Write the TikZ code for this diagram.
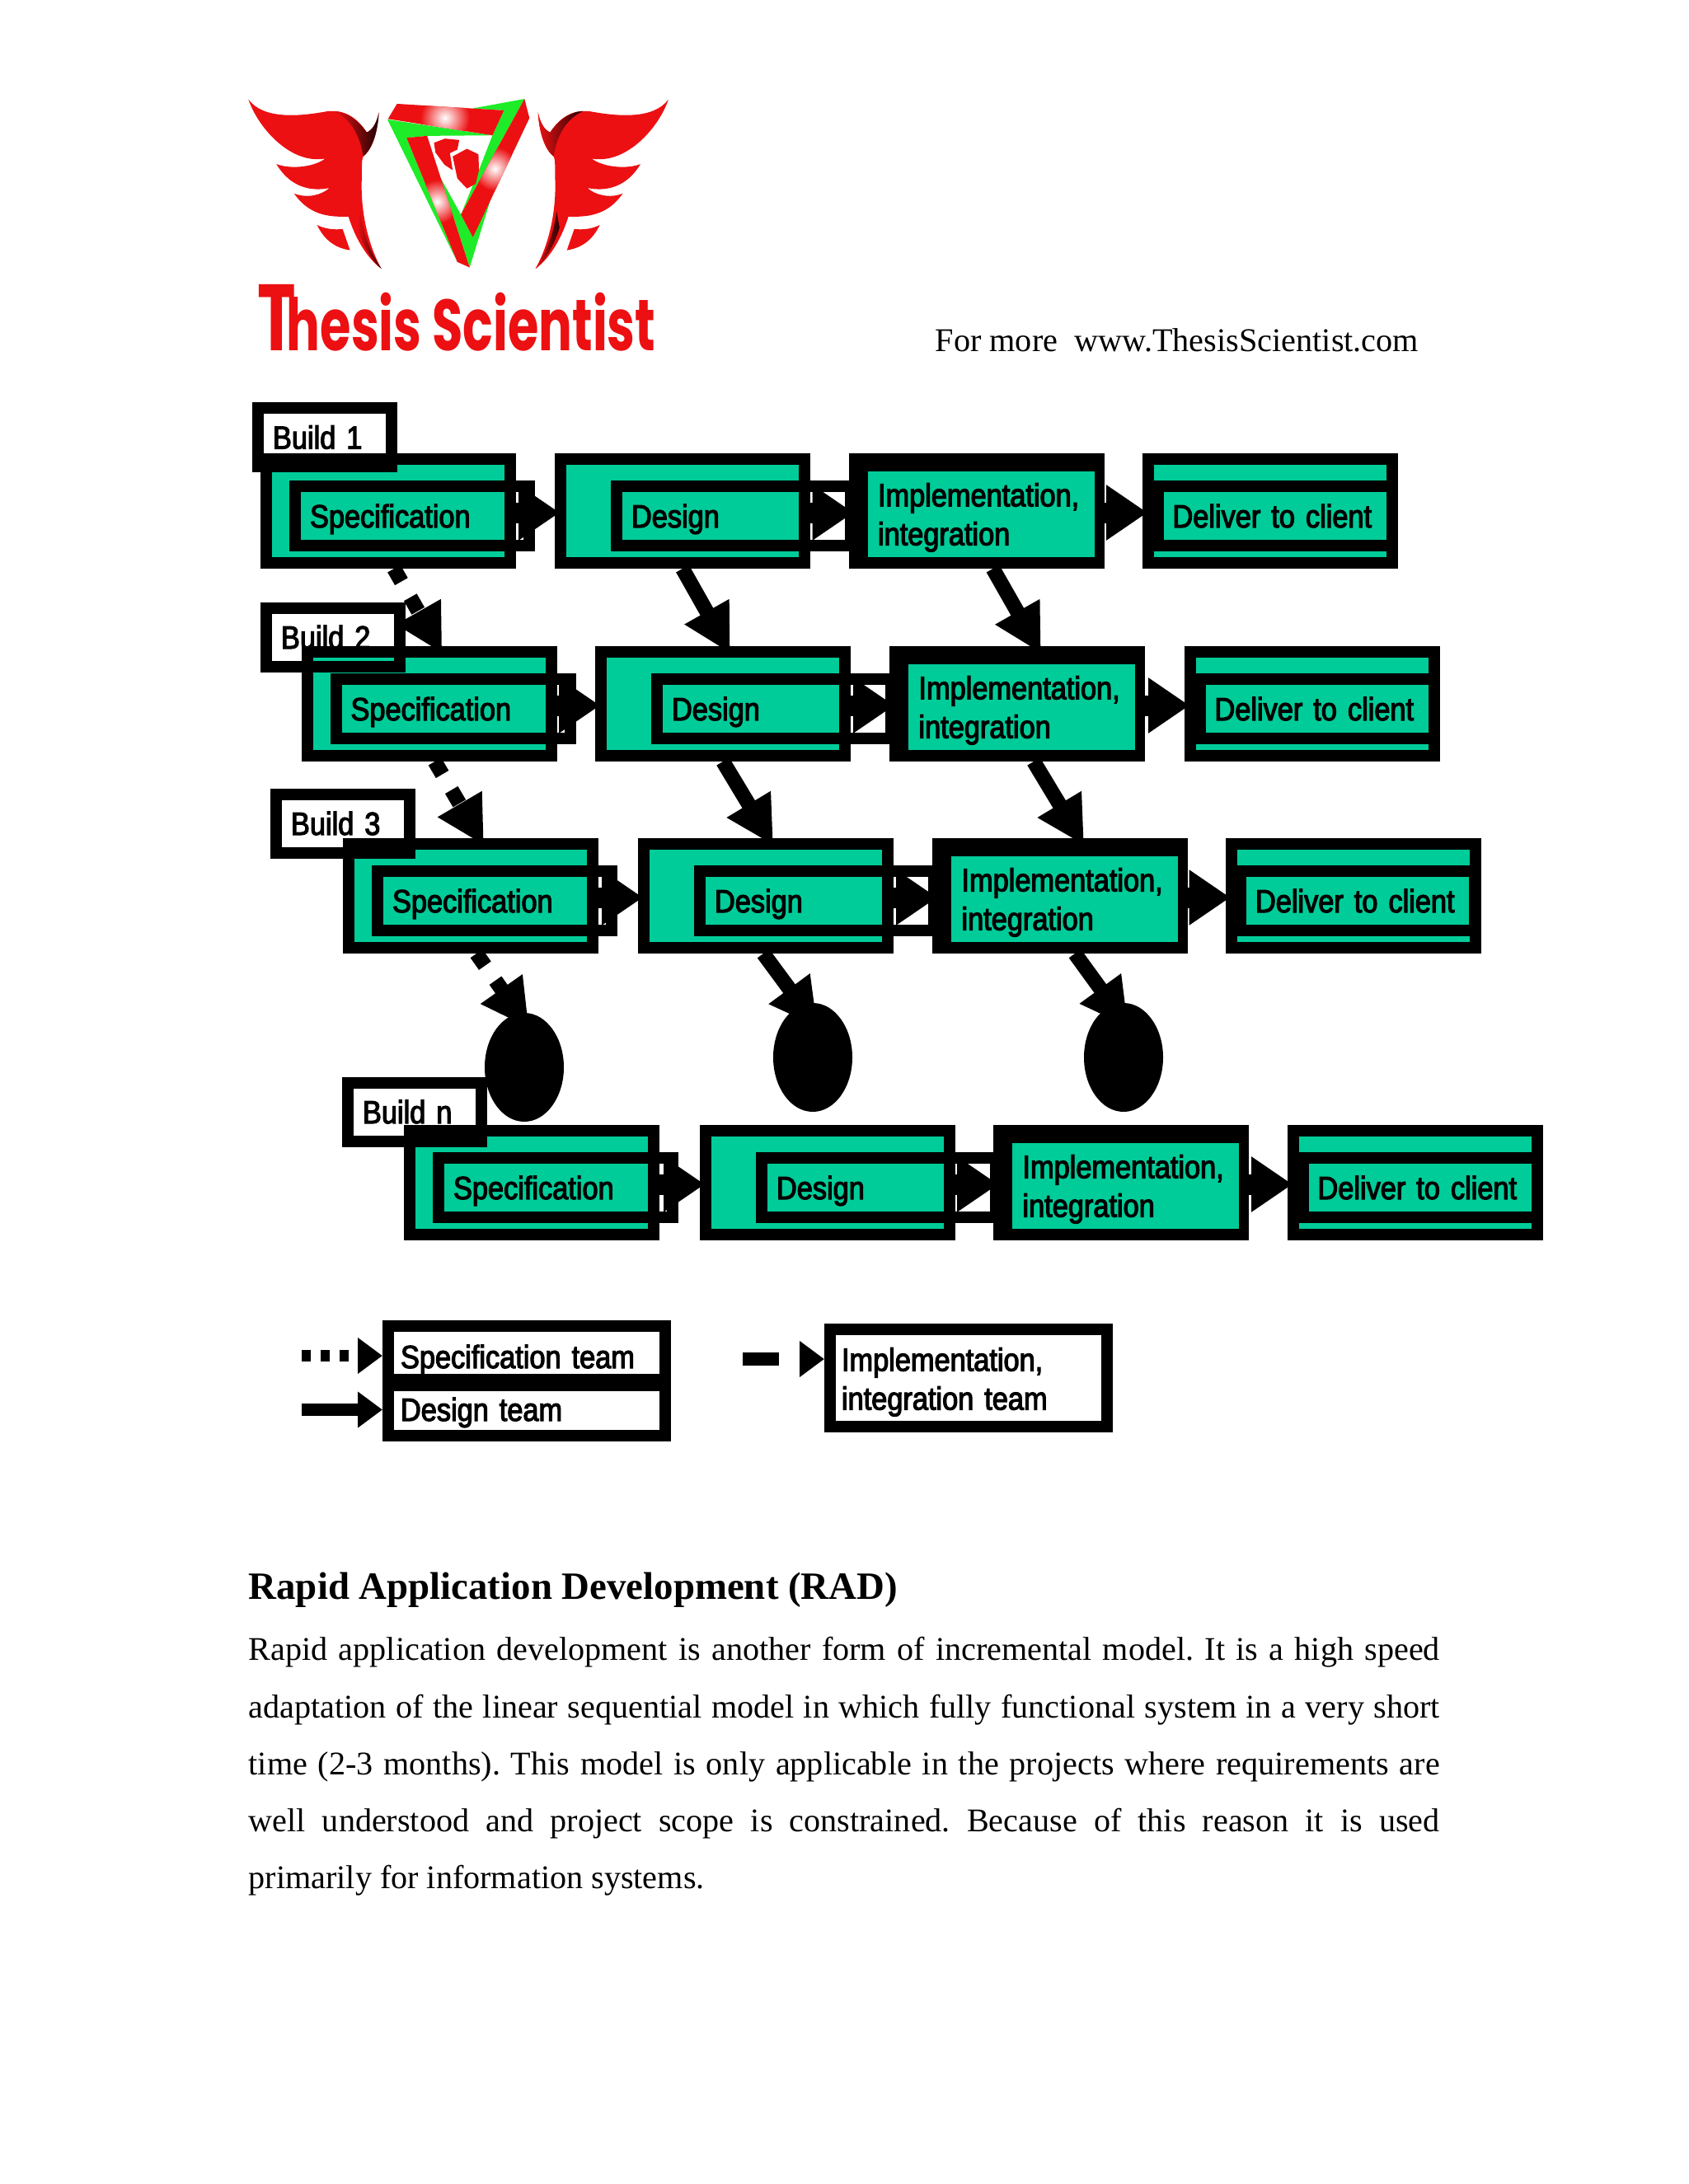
\documentclass[tikz,border=0pt]{standalone}
\usepackage{fontspec}
\usepackage{graphicx}
\usepackage{xcolor}
\usepackage{tikz}
\usetikzlibrary{arrows.meta,shapes.geometric}
\setmainfont{Liberation Serif}
\newfontfamily\boxfam[FakeStretch=.88,FakeBold=3]{Liberation Sans}
\newfontfamily\logofam[FakeStretch=.69]{Poppins}
\newcommand{\boxfont}{\boxfam\fontsize{11.1pt}{13.4pt}\selectfont}
\definecolor{boxgreen}{RGB}{0,204,153}
\definecolor{logored}{RGB}{236,16,18}
\definecolor{logogreen}{RGB}{30,236,40}
\definecolor{logodark}{RGB}{30,2,4}

\newcommand{\logowing}{%
\fill[logored] (60,62) .. controls (90,160) and (200,300) .. (320,278)
  .. controls (290,305) and (210,320) .. (155,298)
  .. controls (200,380) and (270,400) .. (335,385)
  .. controls (310,410) and (260,425) .. (215,405)
  .. controls (270,490) and (340,490) .. (400,490)
  .. controls (420,560) and (460,640) .. (512,680)
  .. controls (470,600) and (440,480) .. (445,350)
  .. controls (445,300) and (445,280) .. (450,270)
  .. controls (485,240) and (500,170) .. (503,110)
  .. controls (495,150) and (480,175) .. (462,182)
  .. controls (430,130) and (390,100) .. (330,105)
  .. controls (230,125) and (110,135) .. (60,62) -- cycle;
\fill[logored] (293,520) .. controls (320,535) and (350,538) .. (380,535)
  -- (405,612) .. controls (360,605) and (320,580) .. (293,520) -- cycle;
\shade[left color=logored,right color=logodark] (350,105) .. controls (400,105) and (440,150) .. (462,182)
  .. controls (480,175) and (495,150) .. (503,110)
  .. controls (500,170) and (485,240) .. (450,270)
  .. controls (445,230) and (425,140) .. (350,105) -- cycle;
\shade[left color=logored,right color=logodark] (440,470) .. controls (450,560) and (480,630) .. (512,680)
  .. controls (480,650) and (450,600) .. (430,530) -- cycle;
}

\tikzset{
  outerbox/.style={draw=black,line width=.14cm,minimum width=2.96cm,minimum height=1.26cm,inner sep=0pt},
  framebox/.style={draw=black,line width=.14cm,minimum width=2.84cm,minimum height=.72cm,
    text width=2.48cm,inner xsep=.18cm,inner ysep=0pt,align=left,anchor=west,
    text height=.28cm,text depth=0pt,font=\boxfont},
  implbox/.style={fill=black,minimum width=3.1cm,minimum height=1.4cm,inner sep=0pt,outer sep=0pt},
  impltext/.style={fill=boxgreen,minimum height=1.04cm,text width=2.5cm,inner xsep=.125cm,
    inner ysep=0pt,outer sep=0pt,align=left,anchor=west,text height=.36cm,font=\boxfont},
  buildbox/.style={draw=black,fill=white,line width=.14cm,minimum width=1.62cm,minimum height=.71cm,
    text width=1.26cm,inner xsep=.18cm,inner ysep=0pt,align=left,
    text height=.28cm,text depth=0pt,font=\boxfont},
  teambox/.style={draw=black,fill=white,line width=.14cm,minimum width=3.36cm,
    text width=3.06cm,inner xsep=.15cm,inner ysep=0pt,align=left,font=\boxfont},
  blob/.style={ellipse,fill=black,minimum width=.96cm,minimum height=1.32cm,inner sep=0pt},
  flowarrow/.style={line width=.25cm,shorten >=-.06cm,-{Triangle[length=.5cm,width=.64cm]}},
  teamarrow/.style={line width=.18cm,shorten >=-.1cm,-{Triangle[length=.58cm,width=.58cm]}},
  specdash/.style={teamarrow,dash pattern=on .18cm off .22cm on .19cm off .1cm},
  keyarrow/.style={-{Triangle[length=.3cm,width=.42cm]}},
}

\begin{document}
\begin{tikzpicture}[x=1cm,y=-1cm]
\useasboundingbox (0,0) rectangle (20.48,26.5);

% logo
\begin{scope}[x=.003571cm,y=-.003333cm,shift={(2.8cm,-1cm)}]
\logowing
\begin{scope}[shift={(1547,0)},xscale=-1]
\logowing
\end{scope}
\end{scope}
\begin{scope}[x=.003333cm,y=-.003333cm,shift={(4.6cm,-1.1cm)}]
\fill[logogreen] (340,65) -- (530,30) -- (298,452) -- (360,300) -- (413,163) -- (455,72) -- cycle;
\fill[logogreen] (30,105) -- (413,163) -- (175,165) -- (100,172) -- (285,625) -- cycle;
\fill[logogreen] (225,320) -- (298,452) -- (342,535) -- (410,385) -- (330,645) -- cycle;
\begin{scope}
\clip (65,48) -- (455,72) -- (413,163) -- (32,103) -- cycle;
\fill[logored] (0,0) rectangle (500,200);
\shade[inner color=white,outer color=logored] (240,100) circle (90);
\end{scope}
\begin{scope}
\clip (100,172) -- (175,165) -- (330,645) -- (285,625) -- cycle;
\fill[logored] (50,150) rectangle (350,660);
\shade[inner color=white,outer color=logored] (212,405) circle (80);
\end{scope}
\begin{scope}
\clip (530,30) -- (548,100) -- (342,535) -- (298,452) -- cycle;
\fill[logored] (280,20) rectangle (560,550);
\shade[inner color=white,outer color=logored] (422,285) circle (80);
\end{scope}
\fill[logored] (200,190) -- (240,175) -- (292,180) -- (285,215) -- (258,228) -- (268,290) -- (238,270) -- (205,225) -- cycle;
\fill[logored] (268,240) -- (320,212) -- (362,232) -- (364,290) -- (352,340) -- (320,357) -- (285,320) -- cycle;
\end{scope}
\node[anchor=base west,inner sep=0pt,text=logored,font=\logofam\bfseries\fontsize{25pt}{25pt}\selectfont] (logotitle) at (3.12,4.25)
  {\scalebox{1.3}[1.3]{T}\kern-.13em hesis Scientist};

\node[anchor=base west,inner sep=0pt,font=\frenchspacing\fontsize{11.45pt}{14pt}\selectfont] (more) at (11.34,4.26) {For more\ \ www.ThesisScientist.com};

% builds
\foreach \r/\bx/\by/\bt/\xs/\xd/\xi/\xc/\yy in {
  1/3.94/5.305/Build 1/4.71/8.28/11.845/15.41/6.20,
  2/4.04/7.73/Build 2/5.205/8.77/12.34/15.92/8.54,
  3/4.16/9.99/Build 3/5.71/9.29/12.86/16.415/10.87,
  n/5.03/13.49/Build n/6.45/10.04/13.60/17.17/14.35} {
  \node[buildbox] (build\r) at (\bx,\by) {\bt};
  \node[outerbox,draw=none,fill=boxgreen] (specbg\r) at (\xs,\yy) {};
  \node[buildbox,fill=none] (buildline\r) at (build\r) {};
  \node[outerbox] (spec\r) at (specbg\r) {};
  \node[framebox] (spectext\r) at ([xshift=.35cm,yshift=-.06cm]spec\r.west) {Specification};
  \node[outerbox,fill=boxgreen] (des\r) at (\xd,\yy) {};
  \node[framebox] (destext\r) at ([xshift=.68cm,yshift=-.06cm]des\r.west) {Design};
  \node[implbox] (impl\r) at (\xi,\yy) {};
  \node[impltext] (impltext\r) at ([xshift=.23cm,yshift=-.04cm]impl\r.west) {Implementation,\\integration};
  \node[outerbox,fill=boxgreen] (del\r) at (\xc,\yy) {};
  \node[framebox] (deltext\r) at ([xshift=.115cm,yshift=-.06cm]del\r.west) {Deliver to client};
  \draw[flowarrow] ([yshift=-.02cm]spec\r.east) -- ([yshift=-.02cm]des\r.west);
  \draw[flowarrow] ([yshift=-.02cm]des\r.east) -- ([yshift=-.02cm]impl\r.west);
  \draw[flowarrow] ([yshift=-.02cm]impl\r.east) -- ([yshift=-.02cm]del\r.west);
}

% teams between builds
\foreach \a/\b in {1/2,2/3} {
  \draw[specdash] ([xshift=.07cm]spec\a.south) -- ([xshift=.11cm]spec\b.north);
  \draw[teamarrow] (des\a.south) -- ([xshift=.04cm]des\b.north);
  \draw[teamarrow] ([xshift=.2cm]impl\a.south) -- ([xshift=.24cm]impl\b.north);
}

% more builds
\node[blob] (more1) at (6.36,12.95) {};
\node[blob] (more2) at (9.86,12.83) {};
\node[blob] (more3) at (13.63,12.83) {};
\draw[specdash] ([xshift=.07cm]spec3.south) -- ([yshift=-.11cm]more1.north);
\draw[teamarrow] ([xshift=-.03cm]des3.south) -- ([yshift=-.22cm]more2.north);
\draw[teamarrow] ([xshift=.18cm]impl3.south) -- ([yshift=-.22cm]more3.north);

% legend
\node[teambox,minimum height=.65cm,text height=.37cm,text depth=0pt] (specteam) at (6.39,16.415) {Specification team};
\node[teambox,minimum height=.61cm,text height=.25cm,text depth=0pt] (desteam) at (6.39,17.115) {Design team};
\node[teambox,minimum height=1.18cm,text width=3.08cm,inner xsep=.14cm,text height=.38cm] (impteam) at (11.75,16.72) {Implementation,\\integration team};

\coordinate (specfrom) at (3.655,16.45);
\coordinate (desfrom) at (3.655,17.105);
\coordinate (impfrom) at (9.01,16.49);
\draw[keyarrow,line width=.14cm,dash pattern=on .115cm off .115cm] (specfrom) -- (specfrom -| specteam.west);
\draw[keyarrow,line width=.15cm] (desfrom) -- (desfrom -| desteam.west);
\draw[keyarrow,line width=.155cm,dash pattern=on .436cm off 1cm] (impfrom) -- (impfrom -| impteam.west);

% text
\node[anchor=base west,inner sep=0pt,font=\bfseries\fontsize{13.33pt}{16pt}\selectfont] (head) at (3.01,19.40) {Rapid Application Development (RAD)};
\node[anchor=north west,inner sep=0pt,text width=14.45cm,align=justify,font=\frenchspacing\fontsize{11.42pt}{19.7pt}\selectfont] (body) at (3.01,19.86)
  {Rapid application development is another form of incremental model. It is a high speed\linebreak
  adaptation of the linear sequential model in which fully functional system in a very short\linebreak
  time (2-3 months). This model is only applicable in the projects where requirements are\linebreak
  well understood and project scope is constrained. Because of this reason it is used\linebreak
  primarily for information systems.};
\end{tikzpicture}
\end{document}
